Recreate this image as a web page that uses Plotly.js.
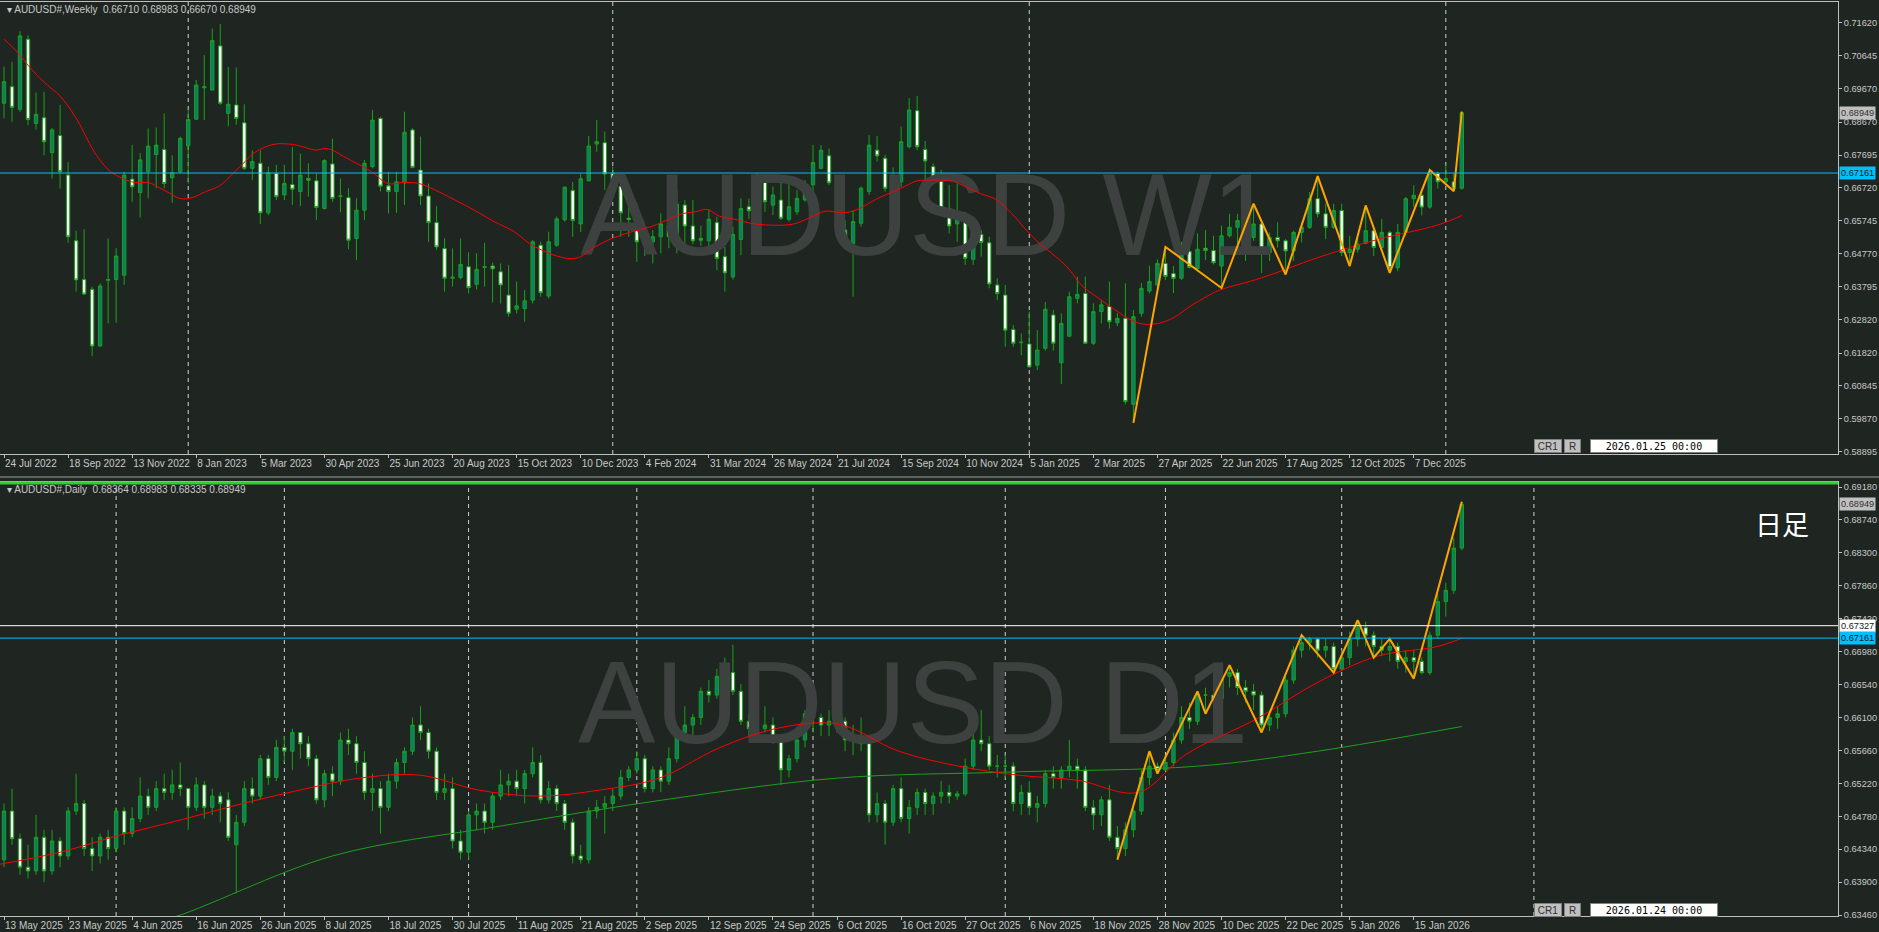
<!DOCTYPE html>
<html><head><meta charset="utf-8">
<script src="https://cdn.plot.ly/plotly-3.0.1.min.js"></script>
<style>html,body{margin:0;padding:0;background:#1f2622;overflow:hidden}#chart{width:1879px;height:932px}</style>
</head><body><div id="chart"></div>
<script>
// ---------- WEEKLY (bar index 0 = week of 24 Jul 2022) ----------
const wOpen=[0.6923,0.6972,0.6905,0.7113,0.6863,0.6880,0.6777,0.6827,0.6710,0.6515,0.6400,0.6371,0.6203,0.6398,0.6400,0.6413,0.6698,0.6658,0.6720,0.6771,0.6786,0.6702,0.6720,0.6797,0.6876,0.6969,0.6962,0.7093,0.6893,0.6918,0.6865,0.6730,0.6745,0.6598,0.6715,0.6651,0.6682,0.6661,0.6700,0.6693,0.6611,0.6743,0.6647,0.6643,0.6522,0.6606,0.6735,0.6878,0.6678,0.6661,0.6687,0.6844,0.6725,0.6648,0.6569,0.6492,0.6404,0.6406,0.6438,0.6386,0.6436,0.6440,0.6423,0.6354,0.6312,0.6314,0.6339,0.6502,0.6351,0.6502,0.6577,0.6664,0.6565,0.6693,0.6802,0.6806,0.6715,0.6677,0.6582,0.6572,0.6512,0.6512,0.6527,0.6562,0.6522,0.6621,0.6559,0.6522,0.6515,0.6569,0.6468,0.6408,0.6519,0.6616,0.6601,0.6690,0.6621,0.6636,0.6579,0.6601,0.6636,0.6681,0.6730,0.6767,0.6687,0.6547,0.6507,0.6567,0.6661,0.6784,0.6760,0.6666,0.6690,0.6794,0.6901,0.6786,0.6735,0.6703,0.6611,0.6565,0.6582,0.6460,0.6534,0.6509,0.6384,0.6354,0.6252,0.6213,0.6209,0.6146,0.6196,0.6295,0.6153,0.6232,0.6344,0.6359,0.6211,0.6305,0.6320,0.6272,0.6285,0.6030,0.6300,0.6366,0.6384,0.6448,0.6418,0.6404,0.6483,0.6433,0.6493,0.6486,0.6440,0.6530,0.6555,0.6575,0.6525,0.6565,0.6480,0.6525,0.6515,0.6485,0.6540,0.6555,0.6640,0.6595,0.6555,0.6605,0.6480,0.6490,0.6508,0.6545,0.6495,0.6540,0.6435,0.6540,0.6640,0.6650,0.6615,0.6715,0.6690,0.6690,0.66710];
const wHigh=[0.7032,0.7046,0.7137,0.7125,0.6955,0.6957,0.6850,0.6918,0.6748,0.6545,0.6549,0.6379,0.6389,0.6522,0.6493,0.6720,0.6799,0.6775,0.6848,0.6851,0.6893,0.6769,0.6824,0.6905,0.6992,0.7066,0.7145,0.7158,0.7031,0.7029,0.6920,0.6783,0.6783,0.6735,0.6740,0.6740,0.6793,0.6774,0.6745,0.6715,0.6757,0.6818,0.6700,0.6671,0.6641,0.6755,0.6903,0.6883,0.6720,0.6720,0.6898,0.6849,0.6824,0.6685,0.6618,0.6522,0.6492,0.6522,0.6481,0.6478,0.6509,0.6450,0.6448,0.6443,0.6394,0.6369,0.6517,0.6512,0.6542,0.6587,0.6676,0.6690,0.6715,0.6826,0.6873,0.6839,0.6735,0.6705,0.6621,0.6626,0.6540,0.6547,0.6596,0.6601,0.6666,0.6636,0.6636,0.6560,0.6608,0.6586,0.6497,0.6557,0.6641,0.6640,0.6715,0.6705,0.6676,0.6697,0.6700,0.6666,0.6695,0.6799,0.6799,0.6789,0.6703,0.6577,0.6606,0.6676,0.6829,0.6826,0.6770,0.6733,0.6854,0.6938,0.6945,0.6811,0.6745,0.6725,0.6680,0.6685,0.6601,0.6547,0.6547,0.6527,0.6404,0.6384,0.6265,0.6240,0.6305,0.6250,0.6334,0.6310,0.6300,0.6364,0.6408,0.6409,0.6330,0.6340,0.6394,0.6300,0.6389,0.6310,0.6390,0.6441,0.6460,0.6497,0.6440,0.6512,0.6537,0.6537,0.6547,0.6530,0.6560,0.6595,0.6595,0.6585,0.6625,0.6570,0.6540,0.6570,0.6520,0.6545,0.6570,0.6660,0.6707,0.6625,0.6625,0.6625,0.6530,0.6525,0.6620,0.6560,0.6580,0.6545,0.6565,0.6645,0.6680,0.6660,0.6725,0.6720,0.6740,0.6715,0.68983];
const wLow=[0.6878,0.6868,0.6898,0.6858,0.6845,0.6769,0.6700,0.6670,0.6509,0.6364,0.6354,0.6173,0.6201,0.6270,0.6272,0.6384,0.6631,0.6584,0.6641,0.6671,0.6671,0.6628,0.6715,0.6685,0.6873,0.6873,0.6962,0.6918,0.6855,0.6859,0.6725,0.6695,0.6565,0.6591,0.6636,0.6636,0.6621,0.6618,0.6646,0.6577,0.6608,0.6631,0.6600,0.6490,0.6458,0.6577,0.6730,0.6661,0.6596,0.6598,0.6621,0.6730,0.6621,0.6512,0.6488,0.6364,0.6379,0.6401,0.6359,0.6371,0.6379,0.6332,0.6329,0.6290,0.6300,0.6275,0.6329,0.6349,0.6344,0.6497,0.6572,0.6527,0.6541,0.6691,0.6779,0.6666,0.6656,0.6527,0.6527,0.6453,0.6470,0.6448,0.6478,0.6493,0.6478,0.6502,0.6505,0.6500,0.6483,0.6428,0.6364,0.6400,0.6473,0.6580,0.6596,0.6601,0.6591,0.6577,0.6572,0.6591,0.6631,0.6636,0.6727,0.6680,0.6532,0.6507,0.6349,0.6557,0.6651,0.6750,0.6661,0.6661,0.6675,0.6789,0.6784,0.6695,0.6695,0.6601,0.6537,0.6512,0.6443,0.6443,0.6468,0.6374,0.6339,0.6201,0.6201,0.6176,0.6139,0.6131,0.6189,0.6189,0.6090,0.6230,0.6330,0.6211,0.6206,0.6270,0.6255,0.6262,0.6030,0.5975,0.6290,0.6359,0.6369,0.6399,0.6360,0.6399,0.6433,0.6428,0.6458,0.6445,0.6375,0.6525,0.6490,0.6455,0.6515,0.6420,0.6455,0.6495,0.6415,0.6455,0.6510,0.6550,0.6585,0.6520,0.6550,0.6470,0.6440,0.6480,0.6505,0.6470,0.6490,0.6420,0.6425,0.6530,0.6615,0.6590,0.6610,0.6670,0.6680,0.6662,0.66670];
const wClose=[0.6987,0.6911,0.7123,0.6875,0.6890,0.6809,0.6844,0.6720,0.6527,0.6399,0.6357,0.6203,0.6381,0.6400,0.6470,0.6710,0.6675,0.6755,0.6796,0.6799,0.6685,0.6717,0.6819,0.6875,0.6977,0.6972,0.7109,0.6923,0.6920,0.6878,0.6730,0.6750,0.6598,0.6717,0.6646,0.6685,0.6668,0.6710,0.6695,0.6614,0.6753,0.6641,0.6648,0.6517,0.6606,0.6745,0.6873,0.6677,0.6661,0.6690,0.6837,0.6733,0.6648,0.6569,0.6497,0.6404,0.6407,0.6445,0.6376,0.6430,0.6438,0.6432,0.6384,0.6300,0.6322,0.6337,0.6512,0.6361,0.6512,0.6580,0.6674,0.6575,0.6699,0.6796,0.6809,0.6713,0.6687,0.6598,0.6578,0.6512,0.6522,0.6527,0.6565,0.6527,0.6624,0.6559,0.6515,0.6517,0.6579,0.6463,0.6420,0.6534,0.6611,0.6604,0.6695,0.6631,0.6651,0.6582,0.6616,0.6641,0.6671,0.6747,0.6784,0.6687,0.6547,0.6512,0.6572,0.6671,0.6799,0.6767,0.6671,0.6705,0.6809,0.6903,0.6794,0.6752,0.6707,0.6611,0.6559,0.6582,0.6463,0.6503,0.6510,0.6387,0.6359,0.6250,0.6211,0.6214,0.6141,0.6191,0.6312,0.6211,0.6270,0.6349,0.6356,0.6211,0.6305,0.6325,0.6275,0.6285,0.6038,0.6290,0.6374,0.6394,0.6448,0.6409,0.6403,0.6493,0.6436,0.6490,0.6486,0.6450,0.6530,0.6555,0.6575,0.6525,0.6565,0.6480,0.6525,0.6515,0.6485,0.6540,0.6555,0.6640,0.6595,0.6555,0.6605,0.6480,0.6490,0.6505,0.6545,0.6495,0.6540,0.6435,0.6540,0.6640,0.6650,0.6615,0.6715,0.6690,0.6700,0.6670,0.68949];
const wTickText=['24 Jul 2022','18 Sep 2022','13 Nov 2022','8 Jan 2023','5 Mar 2023','30 Apr 2023','25 Jun 2023','20 Aug 2023','15 Oct 2023','10 Dec 2023','4 Feb 2024','31 Mar 2024','26 May 2024','21 Jul 2024','15 Sep 2024','10 Nov 2024','5 Jan 2025','2 Mar 2025','27 Apr 2025','22 Jun 2025','17 Aug 2025','12 Oct 2025','7 Dec 2025'];
const wSepIdx=[23,76,128,180];
const wMaIdx=[0,1.5,3.5,5.4,6.9,8.9,10.9,11.8,13.3,14.8,16.3,18,19.2,20.7,21.9,23.2,25.2,26.9,28.6,30.1,31.1,33.6,36,37,39,40,41,42.4,44.4,45.9,47.9,49.8,51.8,53.8,56.3,58.7,61.2,63.7,65.6,67.1,69,70.8,72,73.5,75.9,78.4,80.8,83.3,84.8,86.3,87.8,89.3,91.2,93.2,95.2,97.7,99.2,100.7,102.6,104.6,106.1,107.6,109.1,111,112.5,114,115.5,117,118.4,119.9,121.9,123.8,125.8,127.8,129.3,130.8,132.7,134.7,136.7,138.7,140.7,142.2,144.1,146.1,148.1,150.1,151.8,157,164,171.5,179,182];
const wMaVal=[0.7113,0.7079,0.7022,0.6977,0.6947,0.6883,0.6794,0.6760,0.6720,0.6700,0.6688,0.6688,0.6675,0.6656,0.6641,0.6641,0.6661,0.6678,0.6715,0.6750,0.6774,0.6801,0.6801,0.6796,0.6784,0.6789,0.6784,0.6765,0.6740,0.6720,0.6685,0.6688,0.6685,0.6666,0.6636,0.6606,0.6572,0.6542,0.6507,0.6488,0.6470,0.6462,0.6468,0.6493,0.6522,0.6542,0.6557,0.6582,0.6596,0.6601,0.6608,0.6588,0.6579,0.6567,0.6562,0.6562,0.6569,0.6585,0.6603,0.6598,0.6604,0.6621,0.6641,0.6661,0.6677,0.6693,0.6695,0.6695,0.6692,0.6677,0.6655,0.6638,0.6596,0.6542,0.6507,0.6478,0.6438,0.6379,0.6344,0.6310,0.6280,0.6268,0.6270,0.6288,0.6321,0.6349,0.6369,0.6405,0.6465,0.6519,0.6562,0.6590];
const wZzIdx=[141,145,152,156,160,164,168,170,173,178,181,182];
const wZzVal=[0.5975,0.6497,0.6375,0.6625,0.6415,0.6707,0.6440,0.6620,0.6420,0.6725,0.6662,0.68983];
const wYTicks=[0.71620,0.70645,0.69670,0.68670,0.67695,0.66720,0.65745,0.64770,0.63795,0.62820,0.61820,0.60845,0.59870,0.58895];

// ---------- DAILY (bar index 0 = 13 May 2025) ----------
const dOpen=[0.6420,0.6485,0.6448,0.6410,0.6405,0.6450,0.6405,0.6445,0.6425,0.6485,
0.6495,0.6435,0.6425,0.6450,0.6435,0.6485,0.6455,0.6475,0.6505,0.6490,
0.6515,0.6510,0.6520,0.6515,0.6490,0.6520,0.6490,0.6505,0.6500,0.6440,
0.6470,0.6515,0.6505,0.6555,0.6530,0.6570,0.6565,0.6590,0.6575,0.6555,
0.6500,0.6535,0.6525,0.6580,0.6575,0.6550,0.6510,0.6515,0.6490,0.6525,
0.6550,0.6565,0.6600,0.6590,0.6565,0.6510,0.6515,0.6445,0.6430,0.6480,
0.6485,0.6470,0.6505,0.6520,0.6525,0.6515,0.6535,0.6550,0.6500,0.6515,
0.6495,0.6470,0.6425,0.6420,0.6485,0.6490,0.6495,0.6505,0.6530,0.6540,
0.6555,0.6515,0.6540,0.6525,0.6555,0.6590,0.6600,0.6610,0.6645,0.6640,
0.6665,0.6670,0.6645,0.6605,0.6595,0.6595,0.6600,0.6580,0.6540,0.6555,
0.6580,0.6615,0.6610,0.6600,0.6605,0.6605,0.6580,0.6585,0.6575,0.6480,
0.6495,0.6470,0.6515,0.6475,0.6490,0.6510,0.6495,0.6505,0.6510,0.6505,
0.6508,0.6545,0.6580,0.6575,0.6545,0.6545,0.6545,0.6495,0.6510,0.6490,
0.6495,0.6535,0.6530,0.6540,0.6545,0.6540,0.6490,0.6480,0.6500,0.6450,
0.6435,0.6460,0.6485,0.6530,0.6545,0.6540,0.6550,0.6580,0.6610,0.6605,
0.6640,0.6640,0.6635,0.6665,0.6670,0.6650,0.6645,0.6640,0.6600,0.6610,
0.6615,0.6660,0.6700,0.6710,0.6715,0.6700,0.6705,0.6675,0.6690,0.6715,
0.6730,0.6720,0.6705,0.6700,0.6705,0.6685,0.6690,0.6685,0.6670,0.6720,
0.6765,0.6780,0.68364];
const dHigh=[0.6495,0.6515,0.6455,0.6440,0.6480,0.6460,0.6460,0.6450,0.6490,0.6535,
0.6500,0.6450,0.6455,0.6460,0.6490,0.6490,0.6490,0.6530,0.6515,0.6525,
0.6535,0.6540,0.6550,0.6515,0.6530,0.6525,0.6515,0.6510,0.6510,0.6480,
0.6525,0.6530,0.6560,0.6560,0.6580,0.6585,0.6595,0.6590,0.6585,0.6560,
0.6540,0.6545,0.6590,0.6595,0.6585,0.6565,0.6535,0.6525,0.6535,0.6555,
0.6570,0.6610,0.6625,0.6595,0.6570,0.6535,0.6530,0.6460,0.6485,0.6495,
0.6495,0.6510,0.6540,0.6535,0.6540,0.6540,0.6570,0.6560,0.6525,0.6520,
0.6500,0.6475,0.6440,0.6490,0.6500,0.6505,0.6515,0.6540,0.6545,0.6565,
0.6560,0.6545,0.6545,0.6570,0.6595,0.6625,0.6615,0.6650,0.6660,0.6675,
0.6690,0.6707,0.6655,0.6615,0.6610,0.6625,0.6610,0.6585,0.6560,0.6585,
0.6620,0.6625,0.6615,0.6620,0.6625,0.6610,0.6600,0.6610,0.6580,0.6510,
0.6500,0.6520,0.6530,0.6500,0.6515,0.6515,0.6510,0.6525,0.6520,0.6512,
0.6555,0.6595,0.6620,0.6585,0.6560,0.6560,0.6550,0.6520,0.6525,0.6505,
0.6540,0.6545,0.6545,0.6580,0.6555,0.6545,0.6500,0.6505,0.6520,0.6465,
0.6470,0.6490,0.6540,0.6565,0.6550,0.6560,0.6590,0.6625,0.6630,0.6645,
0.6650,0.6645,0.6670,0.6680,0.6675,0.6660,0.6655,0.6645,0.6620,0.6625,
0.6665,0.6705,0.6720,0.6718,0.6715,0.6715,0.6710,0.6700,0.6725,0.6740,
0.6738,0.6725,0.6715,0.6715,0.6710,0.6700,0.6700,0.6690,0.6725,0.6775,
0.6790,0.6850,0.68983];
const dLow=[0.6410,0.6440,0.6400,0.6395,0.6400,0.6390,0.6400,0.6410,0.6420,0.6480,
0.6425,0.6405,0.6415,0.6420,0.6430,0.6440,0.6450,0.6470,0.6480,0.6485,
0.6500,0.6500,0.6505,0.6460,0.6485,0.6475,0.6480,0.6470,0.6445,0.6375,
0.6465,0.6495,0.6500,0.6520,0.6525,0.6550,0.6540,0.6555,0.6545,0.6495,
0.6490,0.6505,0.6520,0.6560,0.6535,0.6500,0.6485,0.6455,0.6485,0.6515,
0.6535,0.6560,0.6580,0.6555,0.6500,0.6500,0.6435,0.6420,0.6420,0.6460,
0.6455,0.6460,0.6500,0.6505,0.6505,0.6495,0.6530,0.6495,0.6495,0.6485,
0.6460,0.6415,0.6415,0.6415,0.6475,0.6455,0.6485,0.6500,0.6525,0.6535,
0.6510,0.6510,0.6510,0.6520,0.6550,0.6580,0.6580,0.6600,0.6630,0.6635,
0.6655,0.6640,0.6600,0.6585,0.6585,0.6590,0.6575,0.6520,0.6530,0.6550,
0.6570,0.6590,0.6585,0.6585,0.6590,0.6565,0.6560,0.6565,0.6470,0.6470,
0.6440,0.6465,0.6470,0.6455,0.6480,0.6480,0.6480,0.6495,0.6495,0.6500,
0.6505,0.6540,0.6565,0.6540,0.6530,0.6530,0.6485,0.6480,0.6480,0.6470,
0.6490,0.6515,0.6515,0.6530,0.6515,0.6485,0.6460,0.6465,0.6445,0.6420,
0.6425,0.6450,0.6480,0.6520,0.6535,0.6538,0.6545,0.6575,0.6595,0.6600,
0.6615,0.6615,0.6625,0.6650,0.6640,0.6630,0.6620,0.6590,0.6592,0.6595,
0.6610,0.6655,0.6690,0.6700,0.6690,0.6690,0.6670,0.6672,0.6680,0.6705,
0.6705,0.6690,0.6692,0.6685,0.6675,0.6670,0.6662,0.6668,0.6667,0.6715,
0.6745,0.6775,0.68335];
const dClose=[0.6485,0.6448,0.6410,0.6405,0.6450,0.6405,0.6445,0.6425,0.6485,0.6495,
0.6435,0.6425,0.6450,0.6435,0.6485,0.6455,0.6475,0.6505,0.6490,0.6515,
0.6510,0.6520,0.6515,0.6490,0.6520,0.6490,0.6505,0.6495,0.6450,0.6470,
0.6515,0.6505,0.6555,0.6530,0.6570,0.6565,0.6590,0.6575,0.6555,0.6500,
0.6535,0.6525,0.6580,0.6575,0.6550,0.6510,0.6515,0.6490,0.6525,0.6550,
0.6565,0.6600,0.6590,0.6565,0.6510,0.6515,0.6445,0.6430,0.6480,0.6485,
0.6470,0.6505,0.6520,0.6525,0.6515,0.6535,0.6550,0.6500,0.6515,0.6495,
0.6470,0.6425,0.6420,0.6485,0.6490,0.6495,0.6505,0.6530,0.6540,0.6555,
0.6515,0.6540,0.6525,0.6555,0.6590,0.6600,0.6610,0.6645,0.6640,0.6665,
0.6670,0.6645,0.6605,0.6595,0.6595,0.6600,0.6580,0.6540,0.6555,0.6580,
0.6615,0.6610,0.6600,0.6605,0.6605,0.6580,0.6585,0.6575,0.6480,0.6495,
0.6470,0.6515,0.6475,0.6490,0.6510,0.6495,0.6505,0.6510,0.6505,0.6508,
0.6545,0.6580,0.6575,0.6545,0.6545,0.6545,0.6495,0.6510,0.6490,0.6495,
0.6535,0.6530,0.6540,0.6545,0.6540,0.6490,0.6480,0.6500,0.6450,0.6435,
0.6460,0.6485,0.6530,0.6545,0.6540,0.6550,0.6580,0.6610,0.6605,0.6640,
0.6640,0.6635,0.6665,0.6670,0.6650,0.6645,0.6640,0.6600,0.6610,0.6615,
0.6660,0.6700,0.6710,0.6715,0.6700,0.6705,0.6675,0.6690,0.6715,0.6730,
0.6720,0.6705,0.6700,0.6705,0.6685,0.6690,0.6685,0.6670,0.6720,0.6765,
0.6780,0.68364,0.68949];
const dTickText=['13 May 2025','23 May 2025','4 Jun 2025','16 Jun 2025','26 Jun 2025','8 Jul 2025','18 Jul 2025','30 Jul 2025','11 Aug 2025','21 Aug 2025','2 Sep 2025','12 Sep 2025','24 Sep 2025','6 Oct 2025','16 Oct 2025','27 Oct 2025','6 Nov 2025','18 Nov 2025','28 Nov 2025','10 Dec 2025','22 Dec 2025','5 Jan 2026','15 Jan 2026'];
const dSepIdx=[14,35,58,79,101,125,145,167,191];
const dMaIdx=[-0.5,7,14.5,22,29.4,36.9,44.4,51.9,59.3,66.8,74.3,81.8,89.2,96.7,104.2,111.7,119.2,126.6,134.1,141.6,147.6,156.5,164,171.5,179,182];
const dMaVal=[0.6414,0.6430,0.6453,0.6473,0.6494,0.6513,0.6529,0.6533,0.6513,0.6505,0.6513,0.6529,0.6569,0.6596,0.6601,0.6565,0.6545,0.6533,0.6526,0.6510,0.6561,0.6609,0.6657,0.6692,0.6705,0.6716];
const dMa2Idx=[17,20.5,41,62,83,104,125,149,164,182];
const dMa2Val=[0.6336,0.6341,0.6425,0.6465,0.6501,0.6529,0.6537,0.6545,0.6565,0.6598];
const dZzIdx=[139,143,144,149,150,153,157,162,166,169,171,173,176,182];
const dZzVal=[0.6420,0.6565,0.6535,0.6645,0.6615,0.6680,0.6590,0.6720,0.6670,0.6740,0.6690,0.6715,0.6662,0.68983];
const dYTicks=[0.69180,0.68740,0.68300,0.67860,0.67420,0.66980,0.66540,0.66100,0.65660,0.65220,0.64780,0.64340,0.63900,0.63460];

const idx=n=>Array.from({length:n},(_,i)=>i);
const BG='#1f2622', GRID='#c0c0c0', TXT='#c8c8c8';
const W=1879,H=932,PW=1838;
const FONT='Liberation Sans, Arial, sans-serif';

const candle=(o,h,l,c,xa,ya)=>({type:'candlestick',x:idx(c.length),open:o,high:h,low:l,close:c,xaxis:xa,yaxis:ya,
  increasing:{line:{color:'#17a317',width:1},fillcolor:'#0b7d6c'},
  decreasing:{line:{color:'#17a317',width:1},fillcolor:'#ffffff'},
  whiskerwidth:0,hoverinfo:'skip',showlegend:false});

const traces=[
 {type:'scatter',mode:'text',x:[115.4],y:[0.6559],text:['AUDUSD W1'],textfont:{size:116,color:'#3d4240',family:FONT},xaxis:'x',yaxis:'y',hoverinfo:'skip',showlegend:false},
 {type:'scatter',mode:'text',x:[113.5],y:[0.6615],text:['AUDUSD D1'],textfont:{size:116,color:'#3d4240',family:FONT},xaxis:'x2',yaxis:'y2',hoverinfo:'skip',showlegend:false},
 candle(wOpen,wHigh,wLow,wClose,'x','y'),
 {type:'scatter',mode:'lines',x:wMaIdx,y:wMaVal,line:{color:'#ff0000',width:1,shape:'spline'},xaxis:'x',yaxis:'y',hoverinfo:'skip',showlegend:false},
 {type:'scatter',mode:'lines',x:wZzIdx,y:wZzVal,line:{color:'#ffa500',width:2},xaxis:'x',yaxis:'y',hoverinfo:'skip',showlegend:false},
 candle(dOpen,dHigh,dLow,dClose,'x2','y2'),
 {type:'scatter',mode:'lines',x:dMa2Idx,y:dMa2Val,line:{color:'#1e9e1e',width:1,shape:'spline'},xaxis:'x2',yaxis:'y2',hoverinfo:'skip',showlegend:false},
 {type:'scatter',mode:'lines',x:dMaIdx,y:dMaVal,line:{color:'#ff0000',width:1,shape:'spline'},xaxis:'x2',yaxis:'y2',hoverinfo:'skip',showlegend:false},
 {type:'scatter',mode:'lines',x:dZzIdx,y:dZzVal,line:{color:'#ffa500',width:2},xaxis:'x2',yaxis:'y2',hoverinfo:'skip',showlegend:false}
];

const py=p=>1-p/H, px=p=>p/PW;
const xr=[-0.5,(PW-4)/8.01];
const xaxisBase=(ticks,anchor)=>({domain:[0,1],range:xr,anchor:anchor,showgrid:false,zeroline:false,
  tickmode:'array',tickvals:idx(ticks.length).map(k=>k*8),ticktext:ticks,ticks:'outside',ticklen:3,tickcolor:GRID,tickangle:0,
  ticklabelposition:'outside right',tickfont:{family:FONT,size:10,color:TXT},showline:true,linecolor:GRID,mirror:true,
  rangeslider:{visible:false},fixedrange:true});
const yaxisBase=(vals,dom,rng,anchor)=>({domain:dom,range:rng,anchor:anchor,side:'right',showgrid:false,zeroline:false,
  tickmode:'array',tickvals:vals,ticktext:vals.map(v=>v.toFixed(5)),ticks:'outside',ticklen:3,tickcolor:GRID,
  tickfont:{family:FONT,size:9.2,color:TXT},showline:true,linecolor:GRID,mirror:true,fixedrange:true});

const shapes=[];
wSepIdx.forEach(i=>shapes.push({type:'line',xref:'x',yref:'y domain',x0:i,x1:i,y0:0,y1:1,line:{color:'#d0d0d0',width:1,dash:'4px,4px'},layer:'below'}));
dSepIdx.forEach(i=>shapes.push({type:'line',xref:'x2',yref:'y2 domain',x0:i,x1:i,y0:0,y1:1,line:{color:'#d0d0d0',width:1,dash:'4px,4px'},layer:'below'}));
shapes.push({type:'line',xref:'paper',yref:'y',x0:0,x1:1,y0:0.67161,y1:0.67161,line:{color:'#00bfff',width:1}});
shapes.push({type:'line',xref:'paper',yref:'y2',x0:0,x1:1,y0:0.67161,y1:0.67161,line:{color:'#00bfff',width:1}});
shapes.push({type:'line',xref:'paper',yref:'y2',x0:0,x1:1,y0:0.67327,y1:0.67327,line:{color:'#ffffff',width:1}});
shapes.push({type:'line',xref:'paper',yref:'paper',x0:0,x1:1,y0:py(483),y1:py(483),line:{color:'#32cd32',width:3}});
shapes.push({type:'line',xref:'paper',yref:'paper',x0:0,x1:W/PW,y0:py(477),y1:py(477),line:{color:'#a0a0a0',width:1}});

const ann=[];
const hdr=(t,y)=>ann.push({xref:'paper',yref:'paper',x:px(5),y:py(y),xanchor:'left',yanchor:'middle',showarrow:false,text:t,font:{family:FONT,size:10,color:TXT}});
hdr('▾ AUDUSD#,Weekly&nbsp;&nbsp;0.66710 0.68983 0.66670 0.68949',9);
hdr('▾ AUDUSD#,Daily&nbsp;&nbsp;0.68364 0.68983 0.68335 0.68949',489);
const plab=(v,ya,bg,fg)=>ann.push({xref:'paper',yref:ya,x:1,y:v,xanchor:'left',yanchor:'middle',xshift:1,showarrow:false,text:v.toFixed(5),bgcolor:bg,borderpad:1,font:{family:FONT,size:9.2,color:fg}});
plab(0.68949,'y','#c0c0c0','#303030');
plab(0.67161,'y','#00bfff','#102020');
plab(0.68949,'y2','#c0c0c0','#303030');
plab(0.67327,'y2','#ffffff','#202020');
plab(0.67161,'y2','#00bfff','#102020');
ann.push({xref:'paper',yref:'paper',x:px(1782),y:py(523),xanchor:'center',yanchor:'middle',showarrow:false,text:'日足',font:{family:'Noto Sans CJK JP',size:27,color:'#ffffff'}});
const box=(x0,w,y,t,bg,fg,ff)=>ann.push({xref:'paper',yref:'paper',x:px(x0),y:py(y),xanchor:'left',yanchor:'middle',width:w,height:12,showarrow:false,text:t,bgcolor:bg,bordercolor:'#808080',borderwidth:1,borderpad:0,font:{family:ff||FONT,size:10,color:fg}});
[[446,'2026.01.25 00:00'],[910,'2026.01.24 00:00']].forEach(([y,t])=>{
 box(1534,26,y,'CR1','#c0c0c0','#303030');
 box(1564,15,y,'R','#c0c0c0','#303030');
 box(1590,126,y,t,'#ffffff','#000000','DejaVu Sans Mono');
});

const layout={width:W,height:H,margin:{l:0,r:W-PW,t:0,b:0},paper_bgcolor:BG,plot_bgcolor:BG,showlegend:false,hovermode:false,
 xaxis:xaxisBase(wTickText,'y'),
 yaxis:yaxisBase(wYTicks,[py(454),py(2)],[0.58826,0.72234],'x'),
 xaxis2:xaxisBase(dTickText,'y2'),
 yaxis2:yaxisBase(dYTicks,[py(916),py(482)],[0.63448,0.69247],'x2'),
 boxgap:0.4,
 shapes:shapes,annotations:ann};
Plotly.newPlot('chart',traces,layout,{staticPlot:true,displayModeBar:false});
</script></body></html>
